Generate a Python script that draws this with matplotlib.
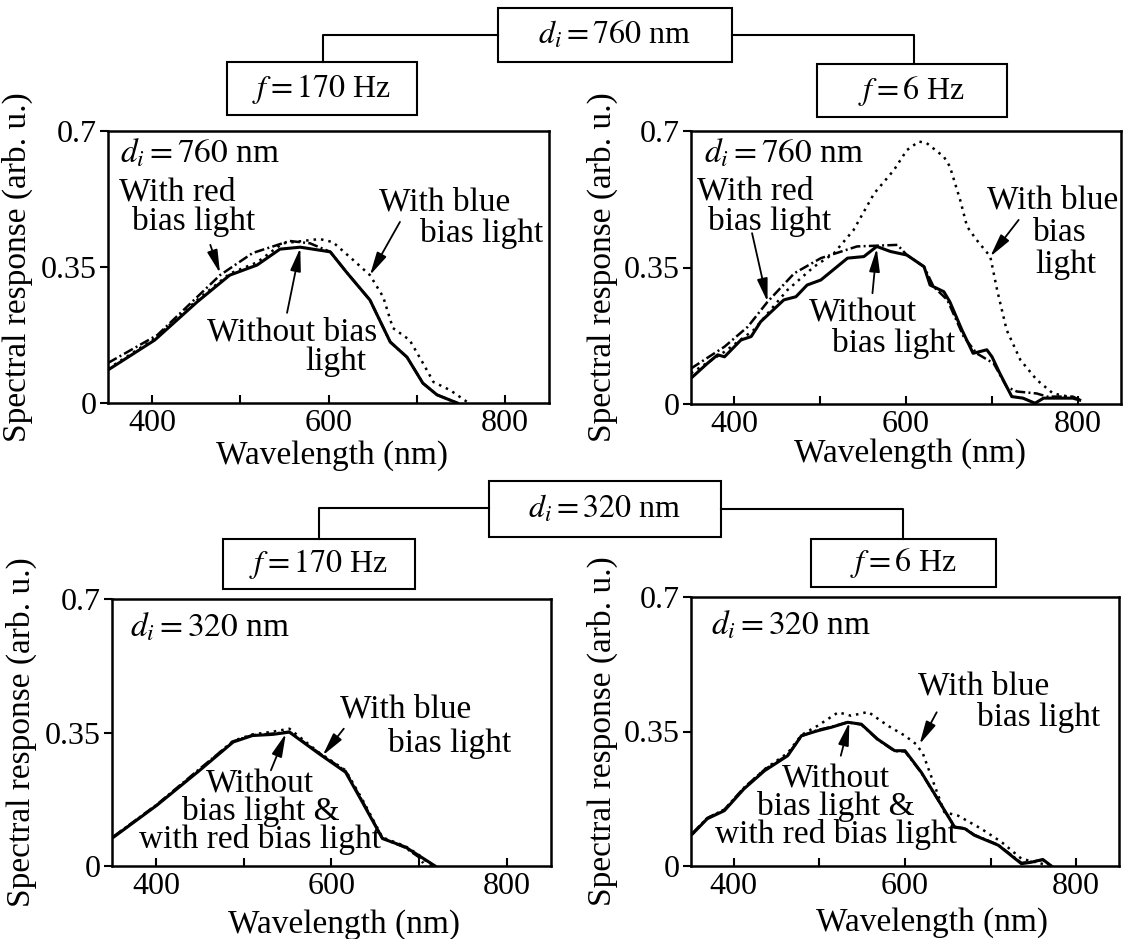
import matplotlib
matplotlib.use("Agg")
import matplotlib.pyplot as plt
from matplotlib.patches import Rectangle
from matplotlib.lines import Line2D

plt.rcParams['font.family'] = ['Liberation Serif', 'DejaVu Serif']
plt.rcParams['mathtext.fontset'] = 'stix'
plt.rcParams['font.size'] = 24

# ---- data (wavelength nm, response arb. u.) ----
# d_i = 760 nm, f = 170 Hz
a_wl_none = [350, 403, 451, 488, 519, 545, 568, 602, 621, 647, 670, 689, 707, 723, 746]
a_none = [0.085, 0.162, 0.260, 0.329, 0.355, 0.396, 0.401, 0.389, 0.335, 0.265, 0.157, 0.118, 0.051, 0.021, 0.0]
a_wl_red = [350, 406, 477, 514, 556, 579, 602, 621, 647, 670, 689, 707, 723, 746]
a_red = [0.103, 0.175, 0.329, 0.386, 0.417, 0.411, 0.389, 0.335, 0.265, 0.157, 0.118, 0.051, 0.021, 0.0]
a_wl_blue = [350, 403, 451, 488, 519, 548, 590, 605, 628, 647, 662, 673, 692, 707, 719, 738, 757]
a_blue = [0.088, 0.166, 0.265, 0.333, 0.362, 0.411, 0.422, 0.414, 0.368, 0.329, 0.273, 0.193, 0.162,
          0.103, 0.054, 0.033, 0.003]

# d_i = 760 nm, f = 6 Hz
b_wl_none = [350, 369, 381, 389, 408, 420, 431, 458, 472, 485, 501, 532, 551, 566, 582, 601, 621,
             628, 644, 651, 665, 678, 694, 700, 709, 723, 736, 750, 760, 794, 802]
b_none = [0.066, 0.104, 0.126, 0.121, 0.164, 0.173, 0.211, 0.267, 0.275, 0.305, 0.318, 0.374, 0.378,
          0.404, 0.391, 0.382, 0.352, 0.305, 0.288, 0.262, 0.190, 0.130, 0.139, 0.121, 0.079, 0.019,
          0.015, 0.002, 0.015, 0.015, 0.010]
b_wl_red = [350, 389, 416, 439, 470, 501, 543, 590, 601, 621, 632, 648, 667, 682, 702, 717, 729,
            752, 764, 794, 802]
b_red = [0.091, 0.147, 0.198, 0.262, 0.335, 0.374, 0.404, 0.408, 0.382, 0.352, 0.301, 0.267, 0.173,
         0.130, 0.104, 0.044, 0.032, 0.027, 0.019, 0.019, 0.010]
b_wl_blue = [350, 389, 423, 462, 493, 516, 539, 563, 586, 601, 615, 624, 644, 651, 663, 671, 682,
             698, 706, 717, 733, 752, 771, 798, 802]
b_blue = [0.079, 0.134, 0.190, 0.292, 0.352, 0.386, 0.446, 0.540, 0.600, 0.651, 0.673, 0.669, 0.634,
          0.609, 0.523, 0.455, 0.421, 0.378, 0.292, 0.190, 0.113, 0.062, 0.027, 0.015, 0.010]

# d_i = 320 nm, f = 170 Hz
c_wl = [352, 401, 450, 488, 510, 533, 552, 586, 616, 635, 658, 684, 699]
c_none = [0.076, 0.159, 0.251, 0.325, 0.342, 0.345, 0.351, 0.294, 0.246, 0.168, 0.072, 0.050, 0.028]
c_red = [0.078, 0.161, 0.255, 0.327, 0.343, 0.347, 0.352, 0.296, 0.249, 0.171, 0.073, 0.048, 0.024]
c_blue = [0.077, 0.160, 0.253, 0.328, 0.345, 0.352, 0.360, 0.297, 0.251, 0.175, 0.075, 0.052, 0.030]
c_end_none, c_end_red, c_end_blue = 718, 707, 714

# d_i = 320 nm, f = 6 Hz
d_wl = [352, 369, 389, 412, 436, 463, 479, 498, 514, 533, 549, 568, 588, 600, 619, 638, 658, 670,
        681, 709, 736, 748, 761, 771]
d_none = [0.084, 0.123, 0.144, 0.201, 0.248, 0.287, 0.339, 0.352, 0.361, 0.374, 0.369, 0.330, 0.300,
          0.300, 0.244, 0.175, 0.101, 0.097, 0.080, 0.054, 0.006, 0.010, 0.017, 0.0]
d_red = [0.086, 0.125, 0.147, 0.204, 0.251, 0.289, 0.338, 0.354, 0.362, 0.374, 0.368, 0.329, 0.299,
         0.298, 0.243, 0.174, 0.102, 0.098, 0.081, 0.055, 0.008, 0.011, 0.016, 0.0]
d_wl_blue = [352, 369, 389, 412, 436, 463, 479, 498, 522, 537, 557, 580, 600, 613, 621, 631, 646,
             662, 689, 713, 736, 767]
d_blue = [0.084, 0.124, 0.146, 0.203, 0.252, 0.294, 0.341, 0.365, 0.400, 0.391, 0.401, 0.365, 0.339,
          0.317, 0.292, 0.231, 0.140, 0.131, 0.097, 0.062, 0.019, 0.002]

W, H = 1134, 939
fig = plt.figure(figsize=(W / 100, H / 100), dpi=100)

SOLID = dict(color='k', lw=2.2)
RED = dict(color='k', lw=1.8, ls=(0, (4, 1.3, 0.8, 1.3)))
BLUE = dict(color='k', lw=1.8, ls=(0, (1, 2)))


def rect(x0, y0, x1, y1):
    return [x0 / W, 1 - y1 / H, (x1 - x0) / W, (y1 - y0) / H]


def panel(pos, curves, di, xlab, dtxt):
    ax = fig.add_axes(rect(*pos))
    for wl, vals, style in curves:
        ax.plot(wl, vals, **style)
    ax.set_xlim(350, 850)
    ax.set_ylim(0, 0.7)
    ax.set_xticks([400, 600, 800])
    ax.set_xticks([500, 700], minor=True)
    ax.set_yticks([0, 0.35, 0.7])
    ax.set_yticklabels(['0', '0.35', '0.7'])
    ax.tick_params(axis='x', which='both', direction='in', length=6, width=1.5, pad=4, labelsize=23)
    ax.tick_params(axis='y', direction='out', length=6, width=1.5, pad=2, labelsize=23)
    for s in ax.spines.values():
        s.set_linewidth(1.8)
    ax.set_xlabel('Wavelength (nm)')
    ax.xaxis.set_label_coords(*xlab)
    ax.set_ylabel('Spectral response (arb. u.)')
    ax.yaxis.set_label_coords(-0.17, 0.5)
    ax.text(dtxt[0], dtxt[1], r'$d_i = %d$ nm' % di, transform=ax.transAxes,
            ha='left', va='baseline')
    return ax


def note(ax, items):
    for x, y, s in items:
        ax.text(x, y, s, ha='center', va='center')


def block(ax, x, y, s):
    ax.text(x, y, s, ha='center', va='center', multialignment='center', linespacing=0.86)


def arrow(ax, tail, tip):
    ax.annotate('', xy=tip, xytext=tail,
                arrowprops=dict(arrowstyle='-|>,head_length=0.7,head_width=0.16', mutation_scale=20,
                                color='k', lw=1.3, shrinkA=0, shrinkB=0))


def box(x0, y0, x1, y1, label):
    fig.add_artist(Rectangle((x0 / W, 1 - y1 / H), (x1 - x0) / W, (y1 - y0) / H,
                             transform=fig.transFigure, fill=False, lw=1.5, ec='k'))
    fig.text((x0 + x1) / 2 / W, 1 - (y0 + y1) / 2 / H, label, ha='center', va='center', fontsize=23)


def wire(xs, ys):
    fig.add_artist(Line2D([x / W for x in xs], [1 - y / H for y in ys],
                          transform=fig.transFigure, color='k', lw=1.5))


# top row
ax1 = panel((108, 131, 549, 403),
            [(a_wl_blue, a_blue, BLUE), (a_wl_red, a_red, RED), (a_wl_none, a_none, SOLID)],
            760, (0.508, -0.136), (0.027, 0.886))
note(ax1, [(428, 0.543, 'With red'), (447, 0.466, 'bias light'),
           (732, 0.517, 'With blue'), (774, 0.437, 'bias light'),
           (559, 0.183, 'Without bias'), (608, 0.106, 'light')])
arrow(ax1, (466, 0.407), (477, 0.334))
arrow(ax1, (681, 0.466), (647, 0.329))
arrow(ax1, (553, 0.232), (568, 0.399))

ax2 = panel((691, 131, 1121, 404),
            [(b_wl_blue, b_blue, BLUE), (b_wl_red, b_red, RED), (b_wl_none, b_none, SOLID)],
            760, (0.509, -0.125), (0.03, 0.886))
note(ax2, [(425, 0.545, 'With red'), (441, 0.468, 'bias light'),
           (771, 0.523, 'With blue'), (779, 0.438, 'bias'), (786, 0.357, 'light'),
           (550, 0.233, 'Without'), (586, 0.156, 'bias light')])
arrow(ax2, (421, 0.438), (439, 0.262))
arrow(ax2, (731, 0.472), (698, 0.378))
arrow(ax2, (561, 0.284), (566, 0.399))

# bottom row
ax3 = panel((112, 599, 551, 866),
            [(c_wl + [c_end_blue], c_blue + [0.0], BLUE), (c_wl + [c_end_red], c_red + [0.0], RED),
             (c_wl + [c_end_none], c_none + [0.0], SOLID)],
            320, (0.528, -0.16), (0.041, 0.861))
note(ax3, [(684, 0.412, 'With blue'), (735, 0.320, 'bias light')])
block(ax3, 519, 0.141, 'Without\nbias light &\nwith red bias light')
arrow(ax3, (614, 0.360), (590, 0.290))
arrow(ax3, (531, 0.251), (548, 0.347))

ax4 = panel((691, 597, 1119, 866),
            [(d_wl_blue, d_blue, BLUE), (d_wl, d_red, RED), (d_wl, d_none, SOLID)],
            320, (0.563, -0.152), (0.047, 0.862))
note(ax4, [(692, 0.469, 'With blue'), (756, 0.387, 'bias light')])
block(ax4, 519, 0.153, 'Without\nbias light &\nwith red bias light')
arrow(ax4, (637, 0.400), (617, 0.317))
arrow(ax4, (525, 0.287), (535, 0.374))

# header boxes and connectors
box(498, 8, 732, 62, r'$d_i = 760$ nm')
wire([498, 323, 323], [35, 35, 62])
wire([732, 914, 914], [35, 35, 64])
box(227, 62, 417, 115, r'$f = 170$ Hz')
box(817, 64, 1007, 117, r'$f = 6$ Hz')

box(489, 481, 721, 537, r'$d_i = 320$ nm')
wire([489, 319, 319], [508, 508, 539])
wire([721, 903, 903], [509, 509, 539])
box(223, 539, 415, 589, r'$f = 170$ Hz')
box(811, 539, 996, 587, r'$f = 6$ Hz')

fig.savefig('out.png', dpi=100)
